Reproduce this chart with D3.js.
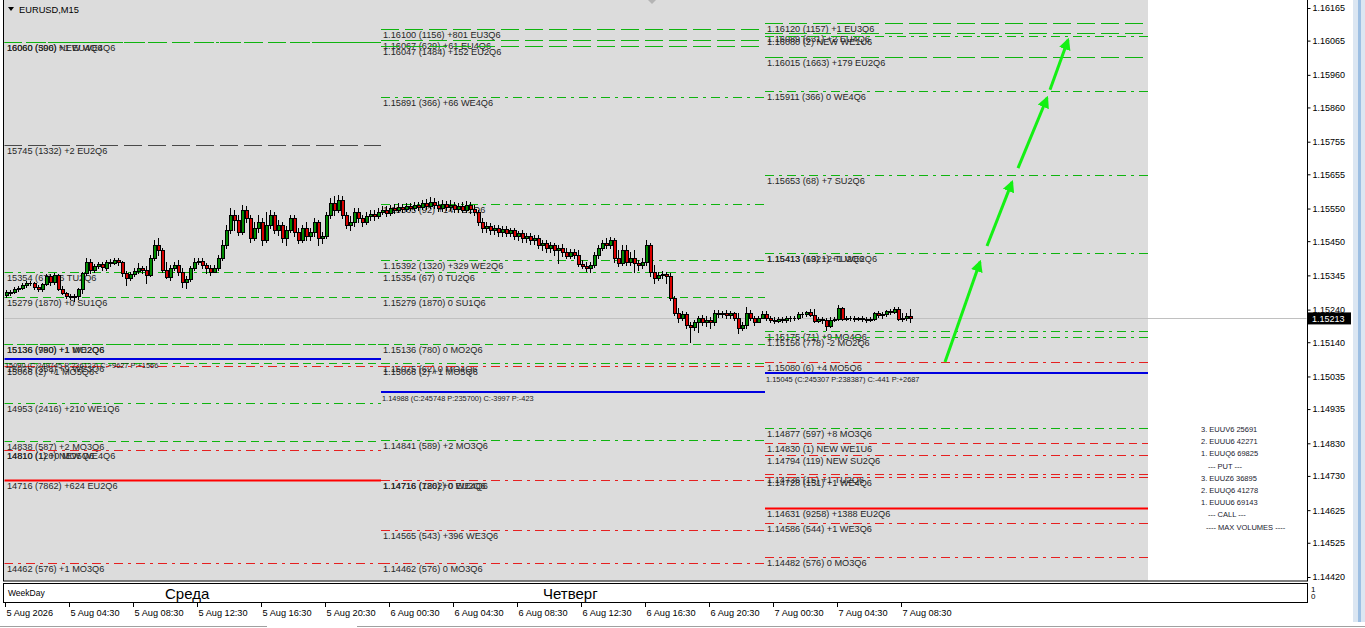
<!DOCTYPE html>
<html><head><meta charset="utf-8">
<script src="https://cdn.jsdelivr.net/npm/d3@7"></script>
<style>
body{margin:0;background:#fff;overflow:hidden}
text{font-family:"Liberation Sans",Arial,sans-serif}
</style>
</head><body>
<svg id="c" width="1365" height="628"></svg>
<script>
// ---------- DATA ----------
const symbolTitle = "EURUSD,M15";
const priceTicks = [1.16165,1.16065,1.15960,1.15860,1.15755,1.15655,1.15550,1.15450,1.15345,1.15240,1.15140,1.15035,1.14935,1.14830,1.14730,1.14625,1.14525,1.14420];
const timeLabels = ["5 Aug 2026","5 Aug 04:30","5 Aug 08:30","5 Aug 12:30","5 Aug 16:30","5 Aug 20:30","6 Aug 00:30","6 Aug 04:30","6 Aug 08:30","6 Aug 12:30","6 Aug 16:30","6 Aug 20:30","7 Aug 00:30","7 Aug 04:30","7 Aug 08:30"];
const timeLabelBars = [0,16,32,48,64,80,96,112,128,144,160,176,192,208,224];
const weekdayNames = ["Среда","Четверг"];
const weekdayBars = [39.75,134.25];
const lastPrice = 1.15213;

// M15 bars (prices)
const opens = [
1.15285,1.15291,1.15294,1.15304,1.15307,1.15316,1.15322,1.15322,1.15310,1.15304,
1.15319,1.15344,1.15325,1.15347,1.15304,1.15291,1.15282,1.15279,1.15282,1.15304,
1.15353,1.15386,1.15362,1.15374,1.15380,1.15368,1.15386,1.15383,1.15393,1.15386,
1.15353,1.15337,1.15350,1.15359,1.15368,1.15362,1.15347,1.15399,1.15439,1.15423,
1.15362,1.15340,1.15368,1.15377,1.15356,1.15325,1.15334,1.15368,1.15386,1.15390,
1.15377,1.15368,1.15356,1.15368,1.15399,1.15439,1.15485,1.15531,1.15515,1.15478,
1.15546,1.15521,1.15460,1.15491,1.15509,1.15454,1.15500,1.15531,1.15485,1.15500,
1.15460,1.15485,1.15521,1.15478,1.15454,1.15491,1.15466,1.15478,1.15509,1.15460,
1.15466,1.15531,1.15567,1.15546,1.15577,1.15531,1.15500,1.15509,1.15540,1.15521,
1.15509,1.15528,1.15534,1.15528,1.15540,1.15546,1.15537,1.15552,1.15546,1.15555,
1.15549,1.15558,1.15552,1.15561,1.15555,1.15567,1.15558,1.15570,1.15561,1.15552,
1.15564,1.15555,1.15561,1.15549,1.15558,1.15546,1.15561,1.15549,1.15540,1.15509,
1.15491,1.15497,1.15485,1.15491,1.15478,1.15488,1.15475,1.15485,1.15466,1.15475,
1.15460,1.15466,1.15454,1.15460,1.15439,1.15445,1.15429,1.15439,1.15423,1.15429,
1.15417,1.15405,1.15417,1.15408,1.15380,1.15374,1.15368,1.15377,1.15408,1.15429,
1.15445,1.15439,1.15454,1.15399,1.15383,1.15423,1.15386,1.15399,1.15383,1.15377,
1.15386,1.15439,1.15356,1.15337,1.15347,1.15350,1.15344,1.15276,1.15230,1.15215,
1.15227,1.15193,1.15187,1.15202,1.15215,1.15202,1.15209,1.15202,1.15230,1.15227,
1.15230,1.15224,1.15230,1.15215,1.15184,1.15193,1.15230,1.15215,1.15202,1.15215,
1.15227,1.15215,1.15209,1.15205,1.15212,1.15209,1.15215,1.15215,1.15215,1.15227,
1.15227,1.15233,1.15224,1.15205,1.15212,1.15209,1.15190,1.15209,1.15212,1.15245,
1.15212,1.15215,1.15215,1.15212,1.15215,1.15212,1.15209,1.15212,1.15230,1.15224,
1.15227,1.15236,1.15233,1.15242,1.15212,1.15215,1.15221];
const highs = [
1.15301,1.15301,1.15310,1.15313,1.15322,1.15328,1.15328,1.15325,1.15316,1.15322,
1.15350,1.15350,1.15353,1.15350,1.15313,1.15294,1.15288,1.15288,1.15307,1.15356,
1.15399,1.15396,1.15380,1.15386,1.15386,1.15393,1.15396,1.15399,1.15399,1.15390,
1.15359,1.15356,1.15368,1.15383,1.15374,1.15374,1.15408,1.15454,1.15460,1.15429,
1.15386,1.15377,1.15386,1.15393,1.15368,1.15344,1.15374,1.15399,1.15399,1.15399,
1.15383,1.15377,1.15377,1.15408,1.15454,1.15500,1.15552,1.15546,1.15531,1.15561,
1.15558,1.15531,1.15509,1.15531,1.15521,1.15540,1.15546,1.15540,1.15515,1.15509,
1.15497,1.15531,1.15531,1.15491,1.15500,1.15509,1.15491,1.15521,1.15515,1.15478,
1.15540,1.15583,1.15589,1.15592,1.15589,1.15540,1.15528,1.15552,1.15552,1.15531,
1.15540,1.15546,1.15546,1.15552,1.15558,1.15558,1.15561,1.15564,1.15567,1.15564,
1.15567,1.15567,1.15570,1.15570,1.15577,1.15580,1.15586,1.15583,1.15574,1.15577,
1.15574,1.15577,1.15570,1.15567,1.15570,1.15574,1.15570,1.15561,1.15546,1.15521,
1.15509,1.15506,1.15500,1.15500,1.15497,1.15497,1.15491,1.15491,1.15482,1.15485,
1.15475,1.15475,1.15469,1.15469,1.15454,1.15454,1.15448,1.15445,1.15439,1.15442,
1.15429,1.15426,1.15426,1.15423,1.15393,1.15386,1.15386,1.15417,1.15439,1.15454,
1.15460,1.15463,1.15460,1.15423,1.15439,1.15439,1.15417,1.15423,1.15393,1.15399,
1.15454,1.15445,1.15377,1.15356,1.15359,1.15356,1.15353,1.15282,1.15245,1.15236,
1.15233,1.15202,1.15209,1.15221,1.15224,1.15221,1.15218,1.15239,1.15239,1.15236,
1.15239,1.15236,1.15233,1.15230,1.15202,1.15248,1.15239,1.15221,1.15221,1.15236,
1.15236,1.15221,1.15218,1.15218,1.15218,1.15221,1.15221,1.15221,1.15233,1.15233,
1.15236,1.15242,1.15242,1.15218,1.15218,1.15215,1.15218,1.15218,1.15255,1.15248,
1.15221,1.15221,1.15221,1.15218,1.15221,1.15218,1.15218,1.15233,1.15236,1.15233,
1.15239,1.15242,1.15248,1.15248,1.15230,1.15230,1.15242];
const lows = [
1.15279,1.15285,1.15291,1.15298,1.15304,1.15310,1.15316,1.15304,1.15298,1.15298,
1.15316,1.15316,1.15319,1.15301,1.15288,1.15276,1.15273,1.15267,1.15273,1.15291,
1.15347,1.15353,1.15356,1.15368,1.15362,1.15362,1.15374,1.15380,1.15377,1.15344,
1.15316,1.15331,1.15344,1.15353,1.15353,1.15322,1.15344,1.15393,1.15408,1.15356,
1.15337,1.15331,1.15362,1.15347,1.15310,1.15307,1.15328,1.15362,1.15380,1.15368,
1.15353,1.15347,1.15356,1.15362,1.15393,1.15429,1.15475,1.15485,1.15469,1.15472,
1.15509,1.15448,1.15454,1.15478,1.15439,1.15448,1.15491,1.15475,1.15469,1.15448,
1.15439,1.15478,1.15466,1.15445,1.15448,1.15454,1.15454,1.15466,1.15439,1.15445,
1.15460,1.15521,1.15531,1.15540,1.15521,1.15491,1.15485,1.15497,1.15509,1.15497,
1.15503,1.15515,1.15515,1.15521,1.15534,1.15528,1.15531,1.15537,1.15540,1.15540,
1.15543,1.15546,1.15546,1.15546,1.15549,1.15549,1.15552,1.15552,1.15543,1.15543,
1.15546,1.15546,1.15540,1.15540,1.15540,1.15540,1.15537,1.15531,1.15500,1.15478,
1.15478,1.15472,1.15472,1.15466,1.15466,1.15466,1.15466,1.15457,1.15454,1.15448,
1.15448,1.15442,1.15442,1.15429,1.15423,1.15417,1.15417,1.15408,1.15383,1.15405,
1.15399,1.15399,1.15399,1.15374,1.15368,1.15359,1.15356,1.15371,1.15399,1.15423,
1.15429,1.15429,1.15386,1.15374,1.15377,1.15377,1.15377,1.15356,1.15362,1.15368,
1.15377,1.15344,1.15322,1.15331,1.15337,1.15322,1.15270,1.15224,1.15202,1.15209,
1.15184,1.15141,1.15178,1.15172,1.15193,1.15190,1.15184,1.15193,1.15218,1.15218,
1.15215,1.15215,1.15209,1.15169,1.15178,1.15184,1.15209,1.15193,1.15202,1.15215,
1.15209,1.15202,1.15199,1.15202,1.15202,1.15202,1.15205,1.15209,1.15212,1.15218,
1.15221,1.15221,1.15202,1.15202,1.15199,1.15178,1.15187,1.15205,1.15209,1.15209,
1.15209,1.15209,1.15205,1.15209,1.15205,1.15202,1.15205,1.15209,1.15218,1.15215,
1.15221,1.15227,1.15230,1.15209,1.15205,1.15209,1.15202];
const closes = [
1.15294,1.15294,1.15304,1.15307,1.15316,1.15322,1.15322,1.15310,1.15304,1.15319,
1.15344,1.15325,1.15347,1.15304,1.15291,1.15282,1.15279,1.15282,1.15304,1.15353,
1.15386,1.15362,1.15374,1.15380,1.15371,1.15386,1.15383,1.15393,1.15386,1.15353,
1.15337,1.15350,1.15359,1.15368,1.15362,1.15347,1.15399,1.15439,1.15423,1.15362,
1.15340,1.15368,1.15377,1.15356,1.15325,1.15334,1.15368,1.15386,1.15390,1.15377,
1.15368,1.15356,1.15368,1.15399,1.15439,1.15485,1.15531,1.15515,1.15478,1.15546,
1.15521,1.15460,1.15491,1.15509,1.15454,1.15500,1.15531,1.15485,1.15500,1.15460,
1.15485,1.15521,1.15478,1.15454,1.15491,1.15466,1.15478,1.15509,1.15460,1.15466,
1.15531,1.15567,1.15546,1.15577,1.15531,1.15500,1.15509,1.15540,1.15521,1.15509,
1.15528,1.15534,1.15528,1.15540,1.15546,1.15537,1.15552,1.15546,1.15555,1.15549,
1.15558,1.15552,1.15561,1.15555,1.15567,1.15558,1.15570,1.15561,1.15552,1.15564,
1.15555,1.15561,1.15549,1.15558,1.15546,1.15561,1.15549,1.15540,1.15509,1.15491,
1.15497,1.15485,1.15491,1.15478,1.15488,1.15475,1.15485,1.15466,1.15475,1.15460,
1.15466,1.15454,1.15460,1.15439,1.15445,1.15429,1.15439,1.15423,1.15429,1.15417,
1.15405,1.15417,1.15408,1.15380,1.15374,1.15368,1.15377,1.15408,1.15429,1.15445,
1.15439,1.15454,1.15399,1.15383,1.15423,1.15386,1.15399,1.15383,1.15377,1.15386,
1.15439,1.15356,1.15337,1.15347,1.15350,1.15344,1.15276,1.15230,1.15215,1.15227,
1.15193,1.15187,1.15202,1.15215,1.15202,1.15209,1.15202,1.15230,1.15227,1.15230,
1.15224,1.15230,1.15215,1.15184,1.15193,1.15230,1.15215,1.15202,1.15215,1.15227,
1.15215,1.15209,1.15205,1.15212,1.15209,1.15215,1.15215,1.15215,1.15227,1.15227,
1.15233,1.15224,1.15205,1.15212,1.15209,1.15190,1.15209,1.15212,1.15245,1.15212,
1.15215,1.15215,1.15212,1.15215,1.15212,1.15209,1.15212,1.15230,1.15224,1.15227,
1.15236,1.15233,1.15242,1.15212,1.15215,1.15221,1.15213];

// option levels: segment (day), price, note, side (c=call,p=put,n=neutral), kind
const levelSeg   = [0,0,0,0,0,0,0,0,0,0,0,0,0,0,0,
                    1,1,1,1,1,1,1,1,1,1,1,1,1,1,1,1,
                    2,2,2,2,2,2,2,2,2,2,2,2,2,2,2,2,2,2,2];
const levelPrice = [1.16060,1.16060,1.15745,1.15354,1.15279,1.15136,1.15136,1.15075,1.15066,1.14953,1.14838,1.14810,1.14810,1.14716,1.14462,
                    1.16100,1.16067,1.16047,1.15891,1.15565,1.15392,1.15354,1.15279,1.15136,1.15075,1.15066,1.14841,1.14716,1.14716,1.14565,1.14462,
                    1.16120,1.16089,1.16080,1.16015,1.15911,1.15653,1.15413,1.15413,1.15175,1.15156,1.15080,1.14877,1.14830,1.14794,1.14736,1.14728,1.14631,1.14586,1.14482];
const levelNote  = ["(506) +1 EU4Q6","(390) NEW WE4Q6","(1332) +2 EU2Q6","(67) +6 TU2Q6","(1870) +0 SU1Q6","(990) +1 WE2Q6","(780) +1 MO2Q6","(358) +9 WE3Q6","(2) +1 MO5Q6","(2416) +210 WE1Q6","(587) +2 MO3Q6","(120) NEW WE4Q6","(1) +0 MO5Q6","(7862) +624 EU2Q6","(576) +1 MO3Q6",
                    "(1156) +801 EU3Q6","(629) +61 EU4Q6","(1484) +152 EU2Q6","(366) +66 WE4Q6","(92) +14 TU1Q6","(1320) +329 WE2Q6","(67) 0 TU2Q6","(1870) 0 SU1Q6","(780) 0 MO2Q6","(62) 0 MO4Q6","(2) +1 MO5Q6","(589) +2 MO3Q6","(7862) 0 EU2Q6","(120) +0 WE4Q6","(543) +396 WE3Q6","(576) 0 MO3Q6",
                    "(1157) +1 EU3Q6","(631) +2 EU4Q6","(2) NEW WE1U6","(1663) +179 EU2Q6","(366) 0 WE4Q6","(68) +7 SU2Q6","(69) +2 TU2Q6","(1321) +1 WE2Q6","(71) +9 MO4Q6","(778) -2 MO2Q6","(6) +4 MO5Q6","(597) +8 MO3Q6","(1) NEW WE1U6","(119) NEW SU2Q6","(15) +1 TU2Q6","(151) +1 WE4Q6","(9258) +1388 EU2Q6","(544) +1 WE3Q6","(576) 0 MO3Q6"];
const levelSide  = ["c","c","n","c","c","c","c","c","p","c","c","p","p","p","p",
                    "c","c","c","c","c","c","c","c","c","c","p","c","p","p","p","p",
                    "c","c","c","c","c","c","c","c","c","c","p","c","p","p","p","p","p","p","p"];
const levelKind  = ["m","w","m","w","d","w","d","d","w","w","d","w","w","s","w",
                    "m","m","m","w","w","w","w","d","d","w","w","w","w","w","w","w",
                    "m","m","w","m","w","w","w","w","w","w","w","w","d","w","w","w","s","w","w"];
// max pain lines per day
const painSeg   = [0,1,2];
const painPrice = [1.15090,1.14988,1.15045];
const painNote  = ["(C:249745 P:236123) C:+9627 P:+1566","(C:245748 P:235700) C:-3997 P:-423","(C:245307 P:238387) C:-441 P:+2687"];
// day segment limits in bar units
const segBounds = [-0.5, 93.75, 189.75, 285.5];
// projected path arrows (bar, price)
const arrowFrom = [[234.75,1.15079],[245.25,1.15435],[253,1.15674],[261,1.15914]];
const arrowTo   = [[243.5,1.15386],[251.5,1.15631],[260.25,1.15889],[265.5,1.16067]];
// max volumes legend
const legendLines = ["3. EUUV6 25691","2. EUUU6 42271","1. EUUQ6 69825","--- PUT ---","3. EUUZ6 36895","2. EUUQ6 41278","1. EUUU6 69143","--- CALL ---","---- MAX VOLUMES ----"];

// ---------- DRAW ----------
const svg = d3.select("#c");
const W = 1365, H = 628;
const plotL = 4, plotR = 1307, plotT = 0, plotB = 580.5;
const y = d3.scaleLinear().domain([1.14420, 1.16165]).range([577, 8]);
const x = d3.scaleLinear().domain([0, 226]).range([6, 910]);

svg.append("rect").attr("width",W).attr("height",H).attr("fill","#fff");
svg.append("rect").attr("x",plotL).attr("y",plotT).attr("width",x(segBounds[3])-plotL).attr("height",plotB-plotT).attr("fill","#dcdcdc");

svg.append("clipPath").attr("id","pc").append("rect").attr("x",plotL+0.5).attr("y",0).attr("width",plotR-plotL-1).attr("height",plotB);
const g = svg.append("g").attr("clip-path","url(#pc)");

g.append("line").attr("x1",plotL).attr("x2",plotR).attr("y1",Math.round(y(lastPrice))+0.5).attr("y2",Math.round(y(lastPrice))+0.5).attr("stroke","#c0c0c0");

const sideColor = {c:"#0fb40f", p:"#e62020", n:"#4a4a4a"};
const kindDash = {m:"18,6", w:"9,5,3,5", d:"8,5", s:null};
const fmt = d3.format(".5f");

levelPrice.forEach((p,i)=>{
  const s = levelSeg[i];
  const yy = Math.round(y(p)) + 0.5;
  const x1 = x(segBounds[s]), x2 = x(segBounds[s+1]);
  const k = levelKind[i];
  const col = k==="s" ? "#ff0000" : sideColor[levelSide[i]];
  g.append("line").attr("x1",x1).attr("x2",x2).attr("y1",yy).attr("y2",yy)
    .style("stroke", col)
    .attr("stroke-width", k==="s" ? 2 : 1)
    .attr("stroke-dasharray", kindDash[k]);
  let txt = fmt(p) + " " + levelNote[i];
  if (s===0) txt = txt.slice(2);
  g.append("text").attr("x", x1 + (s===0?3:2)).attr("y", yy + 8.8)
    .attr("font-size", 9.2).attr("fill","#262626").text(txt);
});

painPrice.forEach((p,i)=>{
  const s = painSeg[i];
  const yy = Math.round(y(p));
  const x1 = x(segBounds[s]), x2 = x(segBounds[s+1]);
  g.append("line").attr("x1",x1).attr("x2",x2).attr("y1",yy).attr("y2",yy).attr("stroke","#0000e0").attr("stroke-width",2);
  let txt = fmt(p) + " " + painNote[i];
  if (s===0) txt = txt.slice(2);
  g.append("text").attr("x", x1 + 1).attr("y", yy + 8.5)
    .attr("font-size", 7.4).attr("fill","#1a1a1a").text(txt);
});

// candles
const cg = g.append("g");
closes.forEach((c,i)=>{
  const o = opens[i];
  const hi = Math.max(highs[i],o,c), lo = Math.min(lows[i],o,c);
  const cx = Math.round(x(i))+0.5;
  cg.append("line").attr("x1",cx).attr("x2",cx).attr("y1",Math.round(y(hi))).attr("y2",Math.round(y(lo))+1).attr("stroke","#000").attr("shape-rendering","crispEdges");
  const yt = Math.round(y(Math.max(o,c))), yb = Math.round(y(Math.min(o,c)));
  if (yb - yt < 1) {
    cg.append("line").attr("x1",cx-1.5).attr("x2",cx+1.5).attr("y1",yt+0.5).attr("y2",yt+0.5).attr("stroke","#000").attr("shape-rendering","crispEdges");
  } else {
    cg.append("rect").attr("x",cx-1.5).attr("y",yt+0.5).attr("width",3).attr("height",yb-yt)
      .attr("fill", c>=o ? "#008c00" : "#d80000").attr("stroke","#000").attr("stroke-width",1).attr("shape-rendering","crispEdges");
  }
});

// arrows
const defs = svg.append("defs");
defs.append("marker").attr("id","ah").attr("viewBox","0 0 10 10").attr("refX",8).attr("refY",5)
  .attr("markerWidth",4).attr("markerHeight",4).attr("orient","auto").attr("markerUnits","strokeWidth")
  .append("path").attr("d","M0,0 L10,5 L0,10 z").attr("fill","#14f014");
arrowFrom.forEach((a,i)=>{
  const b = arrowTo[i];
  g.append("line").attr("x1",x(a[0])).attr("y1",y(a[1])).attr("x2",x(b[0])).attr("y2",y(b[1]))
   .attr("stroke","#14f014").attr("stroke-width",3).attr("marker-end","url(#ah)");
});

// title
svg.append("path").attr("d","M8,7 L14,7 L11,11 z").attr("fill","#000");
svg.append("text").attr("x",19).attr("y",13).attr("font-size",9.3).attr("fill","#000").text(symbolTitle);
svg.append("path").attr("d","M648,0 L656,0 L652,4 z").attr("fill","#b4b4b4");

// frame
svg.append("rect").attr("x",plotL-0.5).attr("y",-0.5).attr("width",plotR-plotL+1).attr("height",plotB+1).attr("fill","none").attr("stroke","#000");

// right axis
const ax = d3.axisRight(y).tickValues(priceTicks).tickSize(3).tickFormat(d3.format(".5f"));
const axg = svg.append("g").attr("transform",`translate(${plotR+0.5},0)`).call(ax);
axg.select(".domain").remove();
axg.selectAll("line").attr("stroke","#000");
axg.selectAll("text").attr("font-size",9).attr("fill","#000").attr("x",5).attr("font-family","Liberation Sans, Arial, sans-serif");
const ly = y(lastPrice);
svg.append("rect").attr("x",plotR+1).attr("y",ly-6).attr("width",43).attr("height",12).attr("fill","#000");
svg.append("text").attr("x",plotR+5).attr("y",ly+3.5).attr("font-size",9).attr("fill","#fff").text(fmt(lastPrice));

// legend
legendLines.forEach((t,i)=>{
  svg.append("text").attr("x", t.startsWith("---") ? (t.startsWith("----")?1206:1208) : 1201).attr("y",432+i*12.2)
   .attr("font-size",7.5).attr("fill","#1a1a2e").text(t);
});

// weekday subwindow
svg.append("rect").attr("x",plotL-0.5).attr("y",583.5).attr("width",plotR-plotL+1).attr("height",19).attr("fill","#fff").attr("stroke","#000");
svg.append("text").attr("x",8).attr("y",596).attr("font-size",8.5).attr("fill","#000").text("WeekDay");
weekdayNames.forEach((n,i)=>{
  svg.append("text").attr("x",x(weekdayBars[i])).attr("y",599).attr("font-size",15).attr("fill","#000").text(n);
});
svg.append("text").attr("x",1311).attr("y",592).attr("font-size",8).attr("fill","#000").text("1");
svg.append("text").attr("x",1311).attr("y",599).attr("font-size",8).attr("fill","#000").text("0");

// time axis
timeLabels.forEach((t,i)=>{
  const tx = Math.round(x(timeLabelBars[i]))-0.5;
  svg.append("line").attr("x1",tx).attr("x2",tx).attr("y1",603).attr("y2",607).attr("stroke","#000");
  svg.append("text").attr("x",tx+1).attr("y",616).attr("font-size",9.2).attr("fill","#000").text(t);
});

svg.append("line").attr("x1",0).attr("x2",267).attr("y1",626.5).attr("y2",626.5).attr("stroke","#a0a0a0");
svg.append("line").attr("x1",357).attr("x2",1365).attr("y1",626.5).attr("y2",626.5).attr("stroke","#a0a0a0");
svg.append("rect").attr("x",1353).attr("y",0).attr("width",12).attr("height",622).attr("fill","#dbe6f2");
svg.append("line").attr("x1",1359.5).attr("x2",1359.5).attr("y1",0).attr("y2",622).attr("stroke","#9dbfe3").attr("stroke-width",3);
</script>
</body></html>
